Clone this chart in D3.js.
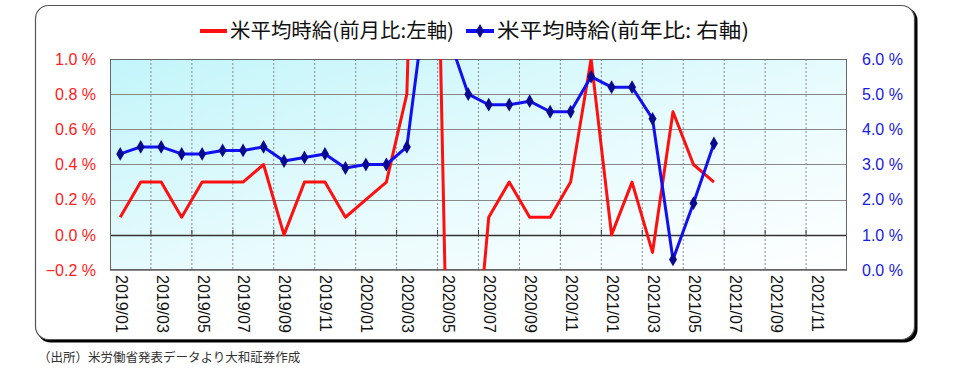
<!DOCTYPE html>
<html><head><meta charset="utf-8">
<script src="https://cdn.jsdelivr.net/npm/d3@7"></script>
<style>
html,body{margin:0;padding:0;background:#fff;}
svg{display:block;}
</style></head>
<body>
<svg id="chart" width="960" height="373"></svg>
<script>
// ---- data ----
const months = [
 "2019/01","2019/02","2019/03","2019/04","2019/05","2019/06","2019/07","2019/08","2019/09","2019/10","2019/11","2019/12",
 "2020/01","2020/02","2020/03","2020/04","2020/05","2020/06","2020/07","2020/08","2020/09","2020/10","2020/11","2020/12",
 "2021/01","2021/02","2021/03","2021/04","2021/05","2021/06","2021/07","2021/08","2021/09","2021/10","2021/11","2021/12"
];
// 米平均時給 前月比 (%), left axis
const momValues = [0.1,0.3,0.3,0.1,0.3,0.3,0.3,0.4,0.0,0.3,0.3,0.1,
                   0.2,0.3,0.8,4.7,-1.0,-1.2,0.1,0.3,0.1,0.1,0.3,1.0,
                   0.0,0.3,-0.1,0.7,0.4,0.3];
// 米平均時給 前年比 (%), right axis
const yoyValues = [3.3,3.5,3.5,3.3,3.3,3.4,3.4,3.5,3.1,3.2,3.3,2.9,
                   3.0,3.0,3.5,8.0,6.7,5.0,4.7,4.7,4.8,4.5,4.5,5.5,
                   5.2,5.2,4.3,0.3,1.9,3.6];
const leftTicks = [-0.2,0.0,0.2,0.4,0.6,0.8,1.0];
const rightTicks = [0,1,2,3,4,5,6];
const xTickLabels = months.filter((m,i)=>i%2===0);
const legendLabels = ["米平均時給(前月比:左軸)","米平均時給(前年比: 右軸)"];
const sourceNote = "（出所）米労働省発表データより大和証券作成";

// ---- layout ----
const svg = d3.select("#chart");
const P = {l:110, r:847, t:59, b:270};
const x = d3.scaleBand().domain(months).range([P.l,P.r]).padding(0);
const yL = d3.scaleLinear().domain([-0.2,1.0]).range([P.b,P.t]);
const yR = d3.scaleLinear().domain([0,6]).range([P.b,P.t]);
const cx = m => x(m) + x.bandwidth()/2;

const defs = svg.append("defs");
const grad = defs.append("linearGradient").attr("id","bg").attr("x1",0).attr("y1",0).attr("x2",1).attr("y2",1);
grad.append("stop").attr("offset","0%").attr("stop-color","#c2f5fa");
grad.append("stop").attr("offset","55%").attr("stop-color","#e8fbfd");
grad.append("stop").attr("offset","100%").attr("stop-color","#ffffff");
defs.append("clipPath").attr("id","clip").append("rect")
  .attr("x",P.l).attr("y",P.t).attr("width",P.r-P.l).attr("height",P.b-P.t);

// outer frame with shadow
svg.append("rect").attr("x",37.5).attr("y",7.5).attr("width",880).attr("height",335)
  .attr("rx",13).attr("fill","#000");
svg.append("rect").attr("x",35.5).attr("y",5.5).attr("width",879).attr("height",334)
  .attr("rx",13).attr("fill","#fff").attr("stroke","#555").attr("stroke-width",1.2);

// plot background
svg.append("rect").attr("x",P.l).attr("y",P.t).attr("width",P.r-P.l).attr("height",P.b-P.t)
  .attr("fill","url(#bg)");

// vertical dashed gridlines at every second category boundary
const vgrid = months.map((m,i)=>i).filter(i=>i>0 && i%2===0);
svg.append("g").selectAll("line").data(vgrid).join("line")
  .attr("x1",i=>x(months[i])).attr("x2",i=>x(months[i]))
  .attr("y1",P.t).attr("y2",P.b)
  .attr("stroke","#8a8a8a").attr("stroke-width",1).attr("stroke-dasharray","2,2");

// horizontal gridlines
svg.append("g").selectAll("line").data(leftTicks).join("line")
  .attr("x1",P.l).attr("x2",P.r)
  .attr("y1",d=>Math.round(yL(d))+0.5).attr("y2",d=>Math.round(yL(d))+0.5)
  .attr("stroke",d=>d===0?"#333":"#888").attr("stroke-width",d=>d===0?1.3:1);

// category axis ticks on the zero line
svg.append("g").selectAll("line").data(vgrid).join("line")
  .attr("x1",i=>x(months[i])).attr("x2",i=>x(months[i]))
  .attr("y1",yL(0)-5).attr("y2",yL(0))
  .attr("stroke","#333").attr("stroke-width",1);

// plot border
svg.append("rect").attr("x",P.l+0.5).attr("y",P.t+0.5).attr("width",P.r-P.l-1).attr("height",P.b-P.t-1)
  .attr("fill","none").attr("stroke","#666").attr("stroke-width",1);

// series
const plot = svg.append("g").attr("clip-path","url(#clip)");
const lineL = d3.line().x((d,i)=>cx(months[i])).y(d=>yL(d));
const lineR = d3.line().x((d,i)=>cx(months[i])).y(d=>yR(d));
plot.append("path").datum(momValues).attr("d",lineL)
  .attr("fill","none").attr("stroke","#ff1010").attr("stroke-width",3).attr("stroke-linejoin","round");
plot.append("path").datum(yoyValues).attr("d",lineR)
  .attr("fill","none").attr("stroke","#1010f0").attr("stroke-width",3).attr("stroke-linejoin","round");
const diamond = d3.symbol().type(d3.symbolDiamond).size(55);
plot.append("g").selectAll("path").data(yoyValues).join("path")
  .attr("d",diamond)
  .attr("transform",(d,i)=>`translate(${cx(months[i])},${yR(d)})`)
  .attr("fill","#0a0a90");

// left axis labels
svg.append("g").selectAll("text").data(leftTicks).join("text")
  .attr("x",96).attr("y",d=>yL(d)).attr("dy","0.36em")
  .attr("text-anchor","end").attr("fill","#ff2020")
  .attr("font-family","'Liberation Sans', Arial, sans-serif").attr("font-size",16)
  .text(d=>d3.format(".1f")(d).replace("-","−")+" %");

// right axis labels
svg.append("g").selectAll("text").data(rightTicks).join("text")
  .attr("x",862).attr("y",d=>yR(d)).attr("dy","0.36em")
  .attr("text-anchor","start").attr("fill","#1a1ae0")
  .attr("font-family","'Liberation Sans', Arial, sans-serif").attr("font-size",16)
  .text(d=>d3.format(".1f")(d)+" %");

// x labels (rotated)
svg.append("g").selectAll("text").data(xTickLabels).join("text")
  .attr("transform",d=>`translate(${cx(d)+1},${P.b+5}) rotate(90)`)
  .attr("text-anchor","start").attr("dy","0.35em").attr("fill","#111")
  .attr("font-family","'Liberation Sans', Arial, sans-serif").attr("font-size",16)
  .text(d=>d);

// legend
const lg = svg.append("g");
const legFont = "'Noto Sans CJK JP', sans-serif";
lg.append("line").attr("x1",200).attr("x2",227).attr("y1",31).attr("y2",31)
  .attr("stroke","#ff1010").attr("stroke-width",4);
lg.append("text").attr("x",230).attr("y",31).attr("dy","0.36em")
  .attr("font-family",legFont).attr("font-size",20).attr("fill","#111")
  .attr("textLength",224).attr("lengthAdjust","spacingAndGlyphs")
  .text(legendLabels[0]);
lg.append("line").attr("x1",466).attr("x2",494).attr("y1",31).attr("y2",31)
  .attr("stroke","#1010f0").attr("stroke-width",4);
lg.append("path").attr("d",diamond).attr("transform","translate(480,31)").attr("fill","#0a0a90");
lg.append("text").attr("x",497).attr("y",31).attr("dy","0.36em")
  .attr("font-family",legFont).attr("font-size",20).attr("fill","#111")
  .attr("textLength",252).attr("lengthAdjust","spacingAndGlyphs")
  .text(legendLabels[1]);

// source note
svg.append("text").attr("x",38).attr("y",357).attr("dy","0.36em")
  .attr("font-family","'Noto Sans CJK JP', sans-serif").attr("font-size",12.5).attr("fill","#333")
  .text(sourceNote);
</script>
</body></html>
